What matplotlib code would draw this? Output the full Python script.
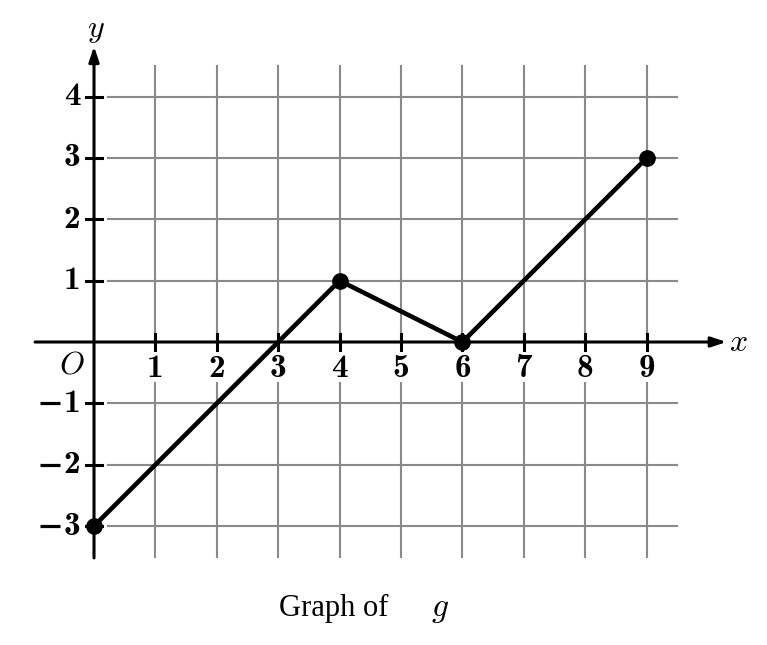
import matplotlib.pyplot as plt

plt.rcParams['mathtext.fontset'] = 'cm'

# data for g
gx = [0, 4, 6, 9]
gy = [-3, 1, 0, 3]

xticks = [1, 2, 3, 4, 5, 6, 7, 8, 9]
yticks = [-3, -2, -1, 1, 2, 3, 4]

fig = plt.figure(figsize=(7.67, 6.45), dpi=100)
ax = fig.add_axes([0, 0, 1, 1])
ax.set_xlim(-1.531, 10.96)
ax.set_ylim(-4.939, 5.575)
ax.axis('off')

grid_c = '#8a8a8a'
# vertical grid lines, broken around the x tick labels
for x in xticks:
    ax.plot([x, x], [-3.5, -0.67], color=grid_c, lw=1.5, zorder=1)
    ax.plot([x, x], [0, 4.5], color=grid_c, lw=1.5, zorder=1)
# horizontal grid lines
for y in yticks:
    ax.plot([0.23, 9.5], [y, y], color=grid_c, lw=1.5, zorder=1)

# axes with arrows
ax.annotate('', xy=(10.3, 0), xytext=(-0.96, 0),
            arrowprops=dict(arrowstyle='-|>,head_length=0.9,head_width=0.3',
                            color='black', lw=2.2, shrinkA=0, shrinkB=0), zorder=3)
ax.annotate('', xy=(0, 4.82), xytext=(0, -3.52),
            arrowprops=dict(arrowstyle='-|>,head_length=0.9,head_width=0.3',
                            color='black', lw=2.2, shrinkA=0, shrinkB=0), zorder=3)

bold = dict(family='cmb10', fontsize=24)

# tick marks and labels
for x in xticks:
    ax.plot([x, x], [-0.13, 0.13], color='black', lw=2.2, zorder=3)
    ax.text(x, -0.43, str(x), ha='center', va='center', **bold)
for y in yticks:
    ax.plot([-0.13, 0.13], [y, y], color='black', lw=2.2, zorder=3)
    ax.text(-0.22, y, str(abs(y)), ha='right', va='center', **bold)
    if y < 0:
        ax.plot([-0.88, -0.55], [y, y], color='black', lw=2.3,
                solid_capstyle='butt', zorder=3)

ax.text(-0.36, -0.37, r'$O$', ha='center', va='center', fontsize=23)
ax.text(10.5, 0, r'$x$', ha='center', va='center', fontsize=23)
ax.text(0.03, 5.1, r'$y$', ha='center', va='center', fontsize=23)

# graph of g
ax.plot(gx, gy, color='black', lw=3.3, zorder=4, solid_capstyle='round')
ax.plot(gx, gy, 'o', color='black', ms=11, zorder=5)

fig.text(388 / 767, 0.057, 'Graph of', ha='right', va='center', fontsize=22,
         family='Liberation Serif')
fig.text(431 / 767, 0.057, r'$g$', ha='left', va='center', fontsize=24)

fig.savefig('out.png', dpi=100)
